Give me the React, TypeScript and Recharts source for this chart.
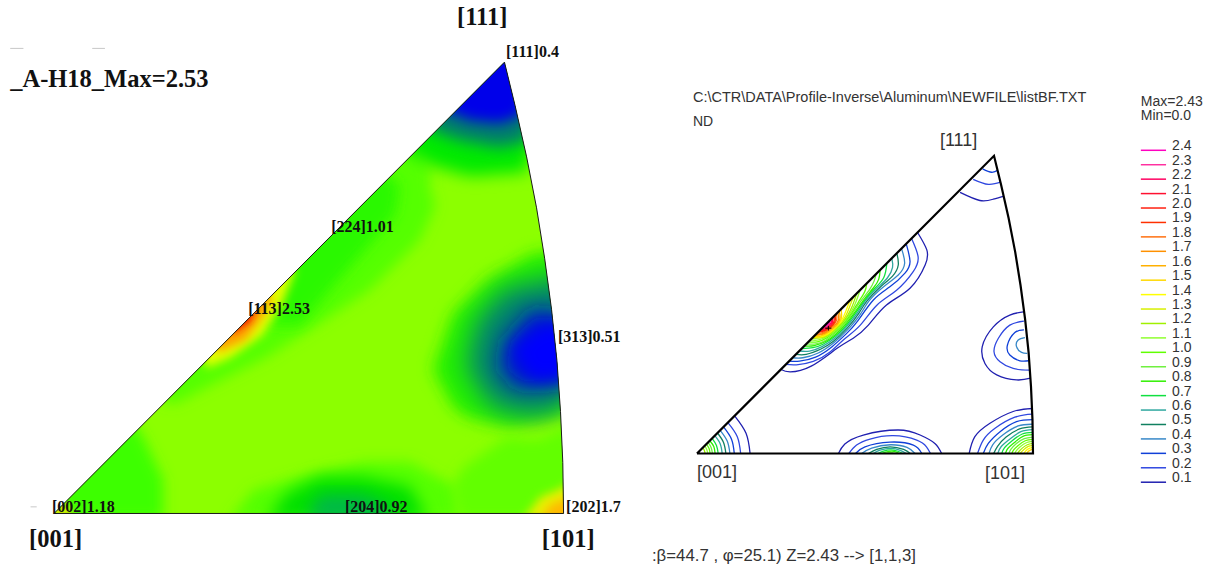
import { ScatterChart, Scatter, XAxis, YAxis, Curve } from "recharts";

type Pt = [number, number];

// sector outline in stereographic units, [001] = (0,0), [101] = (100,0)
const outline: Pt[] = [
  [0, 0], [100, 0], [99.85, 10], [99.4, 20], [98.7, 30], [97.65, 40], [96.3, 50],
  [94.7, 60], [92.75, 70], [90.5, 80], [88.4, 88.6], [0, 0],
];

// left panel, colour patches painted over the base colour
const baseColor = "#8cff00";
const patchColors = [
  "#54ff00", "#2cf800", "#00ea00", "#007a70", "#0000ea",
  "#20f000", "#008070", "#0018d0", "#0000ff",
  "#54ff00", "#00e000", "#00b848",
  "#3cff00", "#c8f000", "#62ff00", "#e8f000", "#ffb800",
  "#e4ff00", "#ff9c00", "#f02000",
];
const patches: Pt[][] = [
  [[21.6, 21.7], [24.1, 21.7], [30, 24.8], [41.8, 30.7], [52.2, 37.4], [62, 43.9], [71.8, 53.7], [74.8, 60.2], [73.8, 64.1], [73.8, 67.4], [70, 74], [60, 66], [20, 28]],
  [[40, 38], [43.4, 37], [48.3, 37], [54.2, 43.9], [61, 51.7], [66.9, 58.6], [67.9, 64.5], [60, 70], [40, 48]],
  [[68.9, 71.3], [73.8, 68.4], [81.6, 66.2], [92.8, 67], [95.4, 81.2], [89.5, 93], [66.9, 73.3]],
  [[74.2, 75.3], [79.7, 73.3], [87.5, 71.9], [93.4, 73.3], [93.4, 89], [88.5, 92], [72.7, 77.2]],
  [[77.7, 78.8], [81.6, 77.2], [87.5, 76.6], [91.9, 78.2], [92.4, 89], [88.5, 93], [75.8, 79.2]],
  [[85, 45.9], [78.3, 39.3], [74.4, 28.2], [78.3, 20.9], [81.1, 18.9], [89.5, 17], [101.3, 19.7], [103.2, 51.7], [94, 51.1]],
  [[88.4, 44], [83, 37.8], [81, 28.8], [85.8, 21], [94, 19], [101.3, 21], [102.3, 46.5], [97.4, 46]],
  [[94, 40], [88.5, 34], [87.5, 28.5], [91, 24.7], [101.3, 25.2], [101.3, 38.9]],
  [[95.4, 36.6], [90.1, 32.1], [94, 26.2], [101.3, 27.2], [101.3, 37]],
  [[34.5, -1.3], [39.1, 4.6], [48.3, 7.2], [60.6, 10.1], [69.9, 10.1], [75.2, 7.2], [79.1, 5.2], [79.7, -1.3]],
  [[41.8, -1.3], [45.7, 4], [52.2, 7.2], [60.6, 7.2], [69.9, 5.2], [73.2, -1.3]],
  [[49.3, -1.3], [52.2, 3.6], [60.6, 3.6], [65.4, 1.3], [66.9, -1.3]],
  [[-2.7, -1.3], [21.4, -1.3], [21.4, 6.6], [17.5, 15], [15, 18.4], [10, 20], [-3, 5]],
  [[-2, -2], [4, -2], [3, 2], [-2, 3]],
  [[79.7, -1.3], [78, 5], [80.3, 9], [88.9, 15], [94.8, 14.4], [102, 17.7], [102.3, -1.3]],
  [[92, -1.3], [95.4, 3.2], [99.7, 5], [102.3, 6.6], [102.3, -1.3]],
  [[95.4, -1.3], [97.4, 1.7], [102.3, 3.6], [102.3, -1.3]],
  [[30, 28.6], [34.5, 30.5], [40.8, 35], [44.7, 40.9], [47.3, 47.8], [45, 50], [28, 33]],
  [[32.2, 31.7], [37.5, 34.1], [40.8, 38.4], [42.8, 41.9], [40, 46], [30, 36]],
  [[35.1, 35.4], [38.5, 37.6], [39.5, 40], [38.9, 42.5], [34, 40]],
];
const patchBlur = [4, 4, 5, 5, 4, 5, 8, 6, 5, 4, 5, 5, 4, 2, 4, 3, 3, 3, 3, 2];

const leftTitles = ["_A-H18_Max=2.53", "[111]", "[001]", "[101]"];
const leftTitleAnchors: Pt[] = [[-8.6, 83.7], [79.1, 95.9], [-4.9, -6.5], [95.7, -6.5]];
const leftNotes = ["[111]0.4", "[224]1.01", "[113]2.53", "[313]0.51", "[002]1.18", "[204]0.92", "[202]1.7"];
const leftNoteAnchors: Pt[] = [[88.7, 89.6], [54.4, 55.3], [38.1, 39.2], [98.9, 33.7], [-0.4, 0.35], [57.1, 0.35], [100.5, 0.35]];
const leftSpecks: Pt[][] = [
  [[-8.6, 91.3], [-6, 91.3]],
  [[7.5, 91.3], [10, 91.3]],
  [[-4.6, 1.3], [-3.4, 1.3]],
];

// right panel, contour levels from top of the legend to the bottom
const levelLabels = [
  "2.4", "2.3", "2.2", "2.1", "2.0", "1.9", "1.8", "1.7", "1.6", "1.5", "1.4", "1.3",
  "1.2", "1.1", "1.0", "0.9", "0.8", "0.7", "0.6", "0.5", "0.4", "0.3", "0.2", "0.1",
];
const levelColors = [
  "#ff00c0", "#ff30a0", "#ff0060", "#ff1030", "#ff2010", "#ff3000", "#ff7010", "#ff9000",
  "#ffb000", "#ffd800", "#ffff00", "#d8f000", "#a0f000", "#90ff30", "#60ff00", "#70f040",
  "#30f000", "#10e040", "#30a8a0", "#108060", "#3888c8", "#1040d8", "#3048e0", "#2020b0",
];

// contour rings, first ring of each list is level 0.1, then 0.2 and so on
const rings001: Pt[][] = [
  [[15.8, 0], [14.6, 6], [11.2, 11.2]],
  [[13, 0], [12, 5], [9.2, 9.2]],
  [[11.1, 0], [10.3, 4.2], [7.9, 7.9]],
  [[9.8, 0], [9, 3.7], [6.9, 6.9]],
  [[8.6, 0], [7.9, 3.3], [6.1, 6.1]],
  [[7.5, 0], [6.9, 2.9], [5.3, 5.3]],
  [[6.3, 0], [5.8, 2.4], [4.5, 4.5]],
  [[5.4, 0], [5, 2.1], [3.8, 3.8]],
  [[4.6, 0], [4.2, 1.8], [3.3, 3.3]],
  [[3.9, 0], [3.6, 1.5], [2.8, 2.8]],
  [[3.2, 0], [2.9, 1.2], [2.3, 2.3]],
  [[2.4, 0], [2.2, 0.9], [1.7, 1.7]],
];
// band along the [001]-[111] edge, read as [distance along edge, offset from edge]
const ringsBand: Pt[][] = [
  [[25, 0], [26, 1.7], [30, 4], [36.5, 5.2], [40.4, 6.1], [44.6, 6.4], [50.3, 6.1], [56.3, 7.1], [62, 5.9], [64.5, 3.9], [65.7, 0]],
  [[26.5, 0], [28, 1.6], [31, 3.6], [35, 4.7], [38.9, 4.9], [43.4, 5.2], [48.9, 4.7], [54, 5.4], [59.3, 5.1], [62.2, 3.6], [63.9, 0]],
  [[27.5, 0], [29, 1.5], [32, 3.3], [36, 4.2], [40, 4.4], [43.6, 4.2], [49.1, 3.4], [53.5, 3.9], [57.8, 4.1], [60.3, 3.1], [62.3, 0]],
  [[28.5, 0], [30, 1.5], [33, 3.1], [37, 3.9], [41, 4], [45, 3.6], [48.3, 2.9], [52.5, 2.95], [56.5, 3.4], [59.2, 2.6], [60.9, 0]],
  [[29.5, 0], [31, 1.5], [34, 2.9], [37, 3.6], [41, 3.7], [45, 3.2], [48, 2.6], [52, 2.5], [55.5, 2.7], [58, 1.9], [59.5, 0]],
  [[30.5, 0], [32, 1.5], [34.5, 2.7], [38, 3.4], [41, 3.4], [45, 2.9], [48, 2.3], [51.5, 2.2], [54.5, 2.2], [56.8, 1.4], [58, 0]],
  [[31.2, 0], [33, 1.5], [35, 2.5], [38, 3.1], [41, 3.15], [45, 2.6], [48, 2.1], [51, 1.9], [54, 1.6], [56.5, 0]],
  [[32, 0], [33.5, 1.4], [36, 2.5], [38.5, 2.9], [41, 2.9], [45, 2.4], [48, 1.9], [51, 1.6], [53, 1.1], [54.5, 0]],
  [[32.6, 0], [34, 1.4], [36, 2.3], [39, 2.7], [41, 2.7], [44, 2.3], [47, 1.7], [50, 1.3], [52, 0.7], [53.3, 0]],
  [[33.2, 0], [34.5, 1.3], [36.5, 2.1], [39, 2.5], [41, 2.5], [44, 2.1], [46.5, 1.5], [49, 0.9], [50.5, 0]],
  [[33.8, 0], [35, 1.2], [37, 2], [39, 2.3], [41, 2.3], [43.5, 1.95], [45.5, 1.4], [47.5, 0.5], [48.5, 0]],
  [[34.3, 0], [35.5, 1.1], [37, 1.85], [39, 2.1], [41, 2.15], [43, 1.85], [45, 1.2], [47.5, 0]],
  [[34.5, 0], [35.6, 1.1], [37, 1.75], [39, 1.95], [40.5, 2], [42.5, 1.7], [44.5, 0.9], [46.5, 0]],
  [[34.7, 0], [35.8, 1], [37.2, 1.6], [38.8, 1.8], [40.2, 1.85], [42, 1.5], [45.5, 0]],
  [[34.7, 0], [35.8, 0.9], [37.2, 1.45], [38.7, 1.7], [40.2, 1.75], [41.7, 1.3], [42.9, 0]],
  [[35.1, 0], [36.2, 0.85], [37.4, 1.3], [39, 1.55], [40.2, 1.6], [41.5, 1.1], [42.3, 0]],
  [[35.4, 0], [36.4, 0.8], [37.7, 1.2], [39.2, 1.35], [40.2, 1.4], [41.2, 1], [41.9, 0]],
  [[35.8, 0], [36.7, 0.7], [37.9, 1.05], [39.2, 1.2], [40.7, 0.9], [41.5, 0]],
  [[36.1, 0], [37, 0.6], [38.2, 0.95], [39.5, 1.05], [40.5, 0.7], [41.1, 0]],
  [[36.4, 0], [37.2, 0.55], [38.4, 0.85], [39.6, 0.85], [40.3, 0.55], [40.8, 0]],
  [[36.7, 0], [37.5, 0.45], [38.6, 0.7], [39.6, 0.65], [40.4, 0]],
  [[37.1, 0], [37.8, 0.35], [38.8, 0.5], [39.6, 0.45], [40.1, 0]],
  [[37.4, 0], [38.2, 0.3], [39, 0.33], [39.8, 0]],
  [[37.8, 0], [38.6, 0.2], [39.4, 0]],
];
const rings204: Pt[][] = [
  [[42.1, 0], [44, 2.8], [49.5, 5.5], [59.9, 7], [66.4, 5.5], [70.8, 3], [72.8, 0]],
  [[45.2, 0], [47.5, 2.5], [51.5, 4.3], [58.4, 5.3], [65.4, 4], [68.3, 2], [69.5, 0]],
  [[47.2, 0], [50, 2], [57.4, 3.4], [64.4, 2.5], [66.9, 0]],
  [[49, 0], [52, 1.6], [57.5, 2.6], [62.5, 1.8], [64.9, 0]],
  [[51, 0], [53.5, 1.2], [57.5, 2], [61.5, 1.2], [63.5, 0]],
  [[52.5, 0], [54.5, 1], [57.8, 1.5], [60.5, 0.9], [62.3, 0]],
  [[53.8, 0], [55.5, 0.7], [57.8, 1.1], [60, 0.6], [61.2, 0]],
  [[55, 0], [56.5, 0.45], [58, 0.7], [59.3, 0.4], [60.2, 0]],
  [[56, 0], [57.5, 0.3], [59, 0]],
];
const rings313: Pt[][] = [
  [[97.6, 42.2], [93.1, 41.2], [88.2, 37.7], [84.9, 31.8], [85.7, 26.8], [89.2, 23.4], [95.1, 21.9], [99.3, 22.4]],
  [[97.3, 39.4], [93.1, 38.2], [89.7, 34.3], [88.4, 30.3], [90.2, 27.3], [94.1, 25.3], [98.9, 24.8]],
  [[97.3, 36.8], [94.6, 36], [92.4, 32.3], [93.1, 29.3], [96.1, 27.6], [98.7, 27.6]],
  [[97.6, 34.5], [95.6, 33.8], [95.1, 31.8], [96.6, 30.1], [98.3, 29.8]],
];
const rings101: Pt[][] = [
  [[99.9, 13.4], [94.1, 12.5], [87.2, 9], [82.7, 5], [81, 0]],
  [[99.9, 11.7], [94.6, 10.8], [88.7, 7.5], [85.2, 4], [83.5, 0]],
  [[99.9, 10.1], [95.1, 9.5], [90.2, 6.5], [86.7, 3], [85.2, 0]],
  [[99.9, 8.7], [95.6, 8.2], [91, 5.5], [88, 2.6], [86.9, 0]],
  [[99.9, 7.9], [96, 7.3], [92, 4.9], [89.5, 2.2], [88.3, 0]],
  [[99.9, 7.1], [96.4, 6.5], [93, 4.2], [90.5, 2], [89.5, 0]],
  [[99.9, 6.3], [96.8, 5.8], [93.8, 3.8], [91.5, 1.7], [90.7, 0]],
  [[99.9, 5.6], [97, 5.1], [94.5, 3.3], [92.5, 1.5], [91.8, 0]],
  [[99.9, 4.9], [97.4, 4.4], [95, 2.9], [93.4, 1.2], [92.8, 0]],
  [[99.9, 4.2], [97.7, 3.8], [95.6, 2.4], [94.2, 1], [93.7, 0]],
  [[99.9, 3.6], [98, 3.2], [96.2, 2], [95, 0.8], [94.6, 0]],
  [[99.9, 3], [98.3, 2.6], [96.8, 1.6], [95.8, 0.6], [95.4, 0]],
  [[99.9, 2.4], [98.6, 2.1], [97.3, 1.2], [96.5, 0.4], [96.2, 0]],
  [[99.9, 1.8], [98.9, 1.5], [97.9, 0.8], [97.3, 0]],
  [[99.9, 1.2], [99.2, 1], [98.5, 0.5], [98.2, 0]],
];
const rings111: Pt[][] = [
  [[78.3, 77.7], [84.2, 75.3], [88.2, 75.7], [91.7, 76.7]],
  [[82.2, 81.6], [86.7, 80.1], [90.7, 80.9]],
  [[85, 84.7], [87.7, 83.7], [89.7, 84.4]],
];
const peakCross: Pt[][] = [
  [[38.2, 37.3], [40, 37.3]],
  [[39.1, 36.6], [39.1, 38]],
];

const rightTexts = ["ND", "Max=2.43", "Min=0.0"];
const rightTextAnchors: Pt[] = [[-1.2, 97.6], [132.1, 103.5], [132.1, 99.3]];
const pathText = ["C:\\CTR\\DATA\\Profile-Inverse\\Aluminum\\NEWFILE\\listBF.TXT"];
const pathAnchor: Pt[] = [[-1.2, 104.7]];
const statusText = [":β=44.7 , φ=25.1) Z=2.43 --> [1,1,3]"];
const statusAnchor: Pt[] = [[-13.4, -32]];
const rightPoles = ["[111]", "[001]", "[101]"];
const rightPoleAnchors: Pt[] = [[72.3, 91.5], [0, -7.3], [85.7, -7.6]];

const toData = (pts: Pt[]) => pts.map(([x, y]) => ({ x, y }));
const noMark = () => <g />;

const pathOf = (points: { x: number; y: number }[], close = true) =>
  points.map((p, i) => `${i ? "L" : "M"}${p.x},${p.y}`).join(" ") + (close ? " Z" : "");

function textSeries(texts: string[], anchors: Pt[], style: Record<string, unknown>, key: string) {
  const data = texts.map((text, i) => ({ x: anchors[i][0], y: anchors[i][1], text }));
  return (
    <Scatter
      key={key}
      data={data}
      isAnimationActive={false}
      shape={(p: any) => (
        <text x={p.cx} y={p.cy} {...style}>
          {p.payload.text}
        </text>
      )}
    />
  );
}

function ring(pts: Pt[], color: string, key: string, clipId: string) {
  return (
    <Scatter
      key={key}
      data={toData(pts)}
      isAnimationActive={false}
      shape={noMark}
      line={(p: any) => (
        <g clipPath={`url(#${clipId})`}>
          <Curve points={p.points} type="natural" stroke={color} strokeWidth={1.3} fill="none" />
        </g>
      )}
    />
  );
}

function LeftPanel() {
  const titleStyle = { fontFamily: "Liberation Serif", fontWeight: "bold", fontSize: 24.5, fill: "#111" };
  const noteStyle = { fontFamily: "Liberation Serif", fontWeight: "bold", fontSize: 16, fill: "#111" };
  return (
    <ScatterChart width={640} height={569} margin={{ top: 0, right: 0, bottom: 0, left: 0 }}>
      <defs>
        {[2, 3, 4, 5, 6, 8].map((d) => (
          <filter key={d} id={`blur${d}`} x="-40%" y="-40%" width="180%" height="180%">
            <feGaussianBlur stdDeviation={d * 1.6} />
          </filter>
        ))}
      </defs>
      <XAxis type="number" dataKey="x" domain={[-10.6, 115]} hide allowDataOverflow />
      <YAxis type="number" dataKey="y" domain={[-10.9, 100.8]} hide allowDataOverflow />
      <Scatter
        data={toData(outline)}
        isAnimationActive={false}
        shape={noMark}
        line={(p: any) => (
          <g>
            <clipPath id="clipLeft">
              <path d={pathOf(p.points)} />
            </clipPath>
            <path d={pathOf(p.points)} fill={baseColor} />
          </g>
        )}
      />
      {patches.map((pts, i) => (
        <Scatter
          key={i}
          data={toData(pts)}
          isAnimationActive={false}
          shape={noMark}
          line={(p: any) => (
            <g clipPath="url(#clipLeft)">
              <path d={pathOf(p.points)} fill={patchColors[i]} filter={`url(#blur${patchBlur[i]})`} />
            </g>
          )}
        />
      ))}
      <Scatter
        data={toData(outline)}
        isAnimationActive={false}
        shape={noMark}
        line={{ stroke: "#1a1a1a", strokeWidth: 1 }}
      />
      {leftSpecks.map((pts, i) => (
        <Scatter
          key={`speck${i}`}
          data={toData(pts)}
          isAnimationActive={false}
          shape={noMark}
          line={{ stroke: "#c8c8c8", strokeWidth: 1 }}
        />
      ))}
      {textSeries(leftTitles, leftTitleAnchors, titleStyle, "titles")}
      {textSeries(leftNotes, leftNoteAnchors, noteStyle, "notes")}
    </ScatterChart>
  );
}

function RightPanel() {
  const textStyle = { fontFamily: "Liberation Sans", fontSize: 14, fill: "#333" };
  const pathStyle = { ...textStyle, fontSize: 14.5 };
  const statusStyle = { ...textStyle, fontSize: 16.8 };
  const poleStyle = { fontFamily: "Liberation Sans", fontSize: 18, fill: "#333" };
  const colorAt = (i: number) => levelColors[levelColors.length - 1 - i];
  const bandXY: Pt[][] = ringsBand.map((r) => r.map(([s, d]) => [s + d, s - d] as Pt));
  const groups: [string, Pt[][]][] = [
    ["c001", rings001],
    ["band", bandXY],
    ["c204", rings204],
    ["c313", rings313],
    ["c101", rings101],
    ["c111", rings111],
  ];
  return (
    <ScatterChart width={574} height={569} margin={{ top: 0, right: 0, bottom: 0, left: 0 }}>
      <XAxis type="number" dataKey="x" domain={[-16.96, 153.87]} hide allowDataOverflow />
      <YAxis type="number" dataKey="y" domain={[-34.375, 134.97]} hide allowDataOverflow />
      <Scatter
        data={toData(outline)}
        isAnimationActive={false}
        shape={noMark}
        line={(p: any) => (
          <clipPath id="clipRight">
            <path d={pathOf(p.points)} />
          </clipPath>
        )}
      />
      {groups.map(([name, rings]) =>
        rings.map((pts, i) => ring(pts, colorAt(i), `${name}${i}`, "clipRight")),
      )}
      {peakCross.map((pts, i) => (
        <Scatter
          key={`cross${i}`}
          data={toData(pts)}
          isAnimationActive={false}
          shape={noMark}
          line={{ stroke: "#000", strokeWidth: 1 }}
        />
      ))}
      <Scatter
        data={toData(outline)}
        isAnimationActive={false}
        shape={noMark}
        line={{ stroke: "#000", strokeWidth: 2.2 }}
      />
      {levelLabels.map((label, i) => {
        const y = 90.24 - 4.295 * i;
        return (
          <Scatter
            key={label}
            data={toData([[132.1, y], [139.6, y]])}
            isAnimationActive={false}
            shape={noMark}
            line={{ stroke: levelColors[i], strokeWidth: 1.5 }}
          />
        );
      })}
      {textSeries(levelLabels, levelLabels.map((_, i) => [141.4, 90.24 - 4.295 * i] as Pt), textStyle, "levels")}
      {textSeries(rightTexts, rightTextAnchors, textStyle, "texts")}
      {textSeries(pathText, pathAnchor, pathStyle, "path")}
      {textSeries(statusText, statusAnchor, statusStyle, "status")}
      {textSeries(rightPoles, rightPoleAnchors, poleStyle, "poles")}
    </ScatterChart>
  );
}

export default function App() {
  return (
    <div style={{ position: "absolute", left: 0, top: 0, width: 1214, height: 569, background: "#fff", overflow: "hidden" }}>
      <div style={{ position: "absolute", left: 0, top: 0 }}>
        <LeftPanel />
      </div>
      <div style={{ position: "absolute", left: 640, top: 0 }}>
        <RightPanel />
      </div>
    </div>
  );
}
